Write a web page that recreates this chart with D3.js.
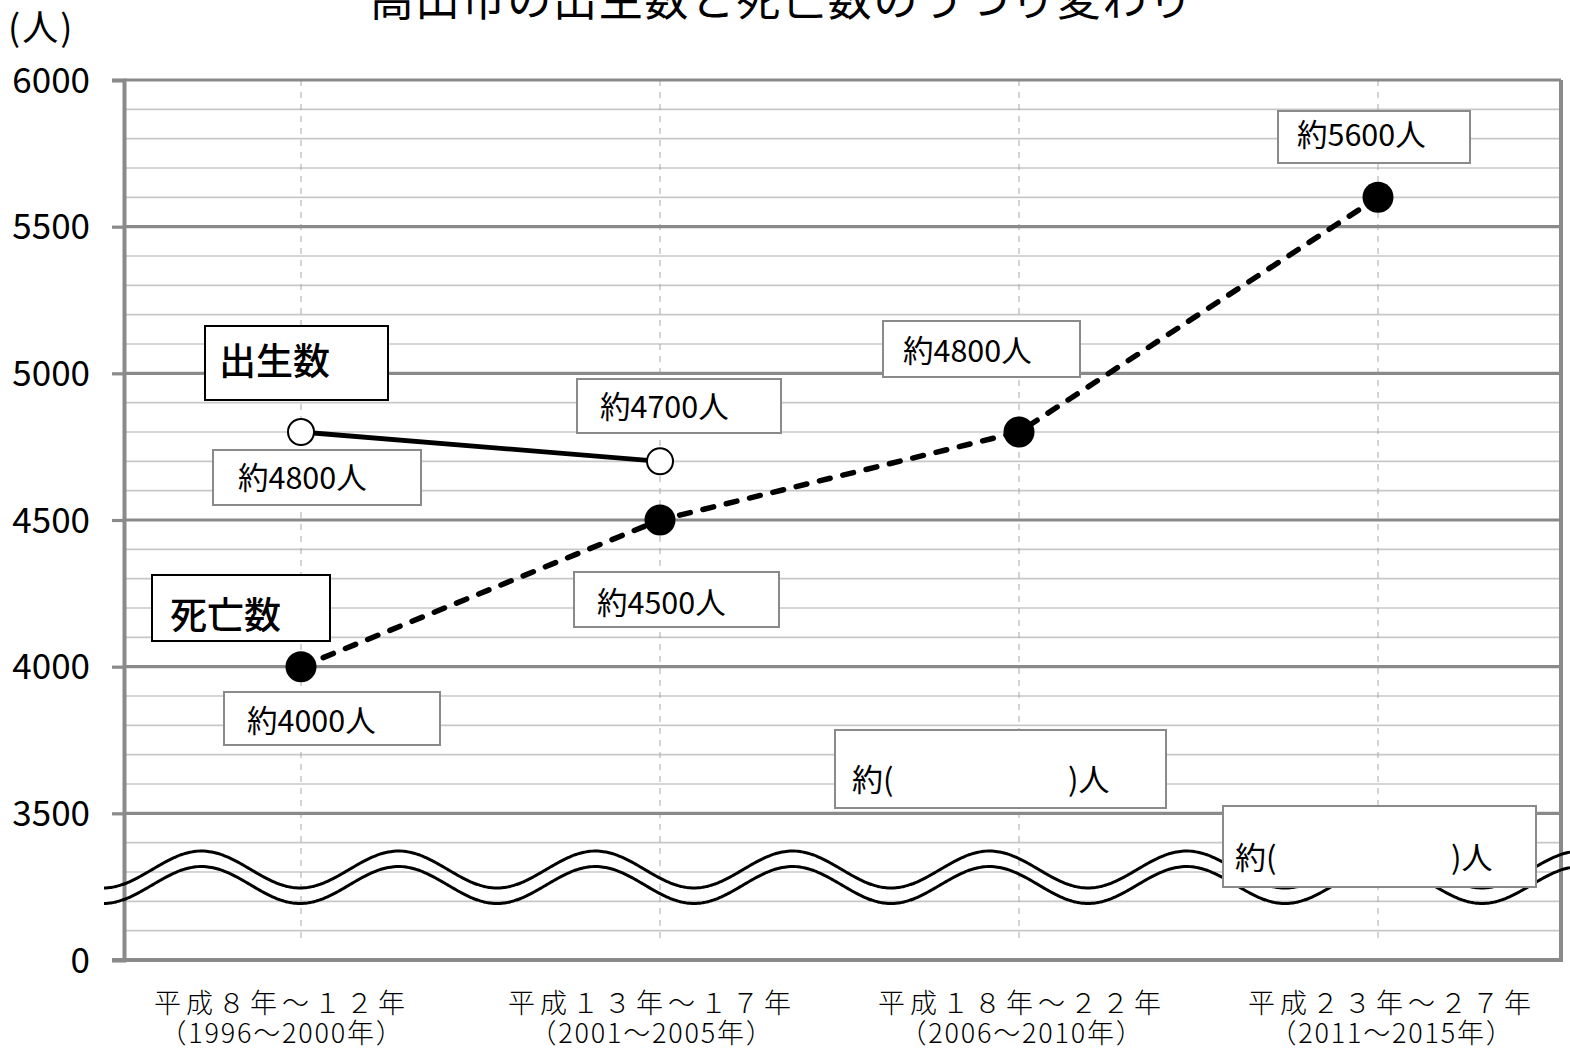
<!DOCTYPE html>
<html>
<head>
<meta charset="utf-8">
<script src="https://cdn.jsdelivr.net/npm/d3@7/dist/d3.min.js"></script>
<style>
  html, body { margin: 0; padding: 0; background: #fff; }
  svg { display: block; }
  text { font-family: "Noto Sans CJK JP", "Noto Sans", sans-serif; fill: #000; }
</style>
</head>
<body>
<svg id="chart" width="1570" height="1050"></svg>
<script>
// ---- data ----
const categories = ["H8-12", "H13-17", "H18-22", "H23-27"];
const catLabels1 = ["平成８年～１２年", "平成１３年～１７年", "平成１８年～２２年", "平成２３年～２７年"];
const catLabels2 = ["（1996～2000年）", "（2001～2005年）", "（2006～2010年）", "（2011～2015年）"];
const births = [4800, 4700];            // 出生数 (first two periods)
const deaths = [4000, 4500, 4800, 5600]; // 死亡数
const yTickValues = [3000, 3500, 4000, 4500, 5000, 5500, 6000];
const yTickLabels = ["0", "3500", "4000", "4500", "5000", "5500", "6000"];
const minorStep = 100;
const title = "高山市の出生数と死亡数のうつり変わり";
const unitLabel = "(人)";

const svg = d3.select("#chart");
const L = 124, R = 1561, T = 80, B = 960;

const x = d3.scalePoint().domain(categories).range([301, 1378]);
const xLab = d3.scalePoint().domain(categories).range([282, 1392]);
const y = d3.scaleLinear().domain([3000, 6000]).range([B, T]);

// minor gridlines
const minorVals = d3.range(3000, 6000 + 1, minorStep).filter(v => !yTickValues.includes(v));
svg.append("g").selectAll("line").data(minorVals).join("line")
  .attr("x1", L).attr("x2", R)
  .attr("y1", d => y(d)).attr("y2", d => y(d))
  .attr("stroke", "#c8c8c8").attr("stroke-width", 1.6);

// vertical dashed category lines
svg.append("g").selectAll("line").data(categories).join("line")
  .attr("x1", d => x(d)).attr("x2", d => x(d))
  .attr("y1", T).attr("y2", 944)
  .attr("stroke", "#a8a8a8").attr("stroke-width", 1).attr("stroke-dasharray", "6,6");

// major gridlines
svg.append("g").selectAll("line").data(yTickValues.slice(1)).join("line")
  .attr("x1", L).attr("x2", R)
  .attr("y1", d => y(d)).attr("y2", d => y(d))
  .attr("stroke", "#8a8a8a").attr("stroke-width", 3.2);

// y axis
const yAxis = d3.axisLeft(y).tickValues(yTickValues)
  .tickFormat((d, i) => yTickLabels[i]).tickSize(12).tickPadding(22);
const gy = svg.append("g").attr("transform", `translate(${L},0)`).call(yAxis);
gy.select(".domain").attr("stroke", "#8a8a8a").attr("stroke-width", 4);
gy.selectAll(".tick line").attr("stroke", "#8a8a8a").attr("stroke-width", 3.2);
gy.selectAll(".tick text").attr("font-size", 35).attr("fill", "#000")
  .attr("font-family", "'Noto Sans CJK JP', sans-serif").attr("dy", "0.35em");

// bottom axis & right border
svg.append("line").attr("x1", L - 12).attr("x2", R + 2).attr("y1", B).attr("y2", B)
  .attr("stroke", "#8a8a8a").attr("stroke-width", 4);
svg.append("line").attr("x1", R).attr("x2", R).attr("y1", T).attr("y2", B)
  .attr("stroke", "#8a8a8a").attr("stroke-width", 4);

// break wave symbol
const wavePeriod = 197, waveAmp = 18.5, waveTrough = 300;
function wavePath(cy) {
  const pts = d3.range(104, 1572, 2).map(px => [px, cy + waveAmp * Math.cos(2 * Math.PI * (px - waveTrough) / wavePeriod)]);
  return d3.line().curve(d3.curveBasis)(pts);
}
[869.5, 885].forEach(cy => {
  svg.append("path").attr("d", wavePath(cy)).attr("fill", "none")
    .attr("stroke", "#000").attr("stroke-width", 3);
});

// text
svg.append("text").attr("x", 782).attr("y", 16).attr("text-anchor", "middle")
  .attr("font-size", 44).attr("letter-spacing", 1.8).attr("font-weight", 400).text(title);
svg.append("text").attr("x", 8).attr("y", 41).attr("font-size", 36).attr("letter-spacing", 2).text(unitLabel);

const xl = svg.append("g");
categories.forEach((c, i) => {
  xl.append("text").attr("x", xLab(c)).attr("y", 1013).attr("text-anchor", "middle")
    .attr("font-size", 27).attr("font-weight", 300).attr("letter-spacing", 5).text(catLabels1[i]);
  xl.append("text").attr("x", xLab(c)).attr("y", 1043).attr("text-anchor", "middle")
    .attr("font-size", 27).attr("font-weight", 300).attr("letter-spacing", 1.8).text(catLabels2[i]);
});

// annotation boxes
function box(x0, y0, w, h, color) {
  svg.append("rect").attr("x", x0).attr("y", y0).attr("width", w).attr("height", h)
    .attr("fill", "#fff").attr("stroke", color).attr("stroke-width", 2);
}
function label(x0, yb, str, size, weight) {
  svg.append("text").attr("x", x0).attr("y", yb).attr("font-size", size)
    .attr("font-weight", weight || 400).text(str);
}
// legend boxes
box(205, 326, 183, 74, "#000"); label(219, 375, "出生数", 37, 500);
box(152, 575, 178, 66, "#000"); label(170, 629, "死亡数", 37, 500);
// value boxes
const birthBoxes = [[213, 450, 208, 55, 238, 489], [577, 379, 204, 54, 600, 418]];
const deathBoxes = [[224, 692, 216, 53, 247, 732], [574, 572, 205, 55, 597, 614], [883, 321, 197, 56, 903, 362], [1278, 111, 192, 52, 1297, 146]];
birthBoxes.forEach((b, i) => { box(b[0], b[1], b[2], b[3], "#8a8a8a"); label(b[4], b[5], "約" + births[i] + "人", 30.5); });
deathBoxes.forEach((b, i) => { box(b[0], b[1], b[2], b[3], "#8a8a8a"); label(b[4], b[5], "約" + deaths[i] + "人", 30.5); });
// blank boxes
box(835, 730, 331, 78, "#8a8a8a"); label(852, 791, "約(", 31); label(1068, 791, ")人", 31);
box(1223, 806, 313, 81, "#8a8a8a"); label(1235, 869, "約(", 31); label(1451, 869, ")人", 31);

// series lines
const line = d3.line().x(d => x(d.c)).y(d => y(d.v));
const birthData = births.map((v, i) => ({ c: categories[i], v }));
const deathData = deaths.map((v, i) => ({ c: categories[i], v }));

svg.append("path").attr("d", line(deathData)).attr("fill", "none")
  .attr("stroke", "#000").attr("stroke-width", 5.5)
  .attr("stroke-dasharray", "11,13").attr("stroke-linecap", "round");
svg.append("path").attr("d", line(birthData)).attr("fill", "none")
  .attr("stroke", "#000").attr("stroke-width", 4.8);

svg.append("g").selectAll("circle").data(deathData).join("circle")
  .attr("cx", d => x(d.c)).attr("cy", d => y(d.v)).attr("r", 15.5).attr("fill", "#000");
svg.append("g").selectAll("circle").data(birthData).join("circle")
  .attr("cx", d => x(d.c)).attr("cy", d => y(d.v)).attr("r", 13)
  .attr("fill", "#fff").attr("stroke", "#000").attr("stroke-width", 2);
</script>
</body>
</html>
